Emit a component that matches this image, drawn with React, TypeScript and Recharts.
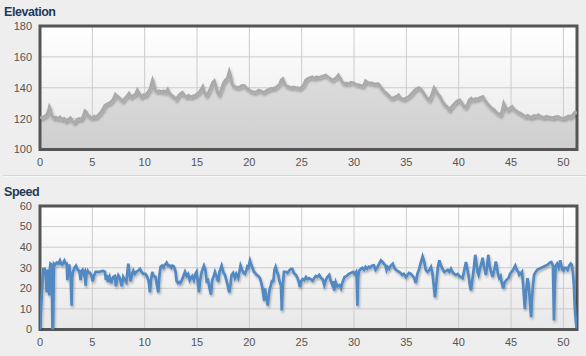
import React from 'react';
import { ComposedChart, Area, Line, XAxis, YAxis, CartesianGrid, ReferenceArea } from 'recharts';

const distanceTicks = [0, 5, 10, 15, 20, 25, 30, 35, 40, 45, 50];
const elevationTicks = [100, 120, 140, 160, 180];
const speedTicks = [0, 10, 20, 30, 40, 50, 60];
const distanceMax = 51.3;

// [km, metres]
const elevationPoints: [number, number][] = [
  [0, 121], [0.2, 120.5], [0.4, 121.5], [0.6, 122], [0.8, 125], [0.9, 127.5], [1.0, 126], [1.1, 122.5], [1.3, 120.5],
  [1.5, 121], [1.7, 120], [1.9, 121], [2.1, 119.5], [2.3, 120], [2.5, 118.5], [2.7, 119.5], [2.9, 120.5], [3.1, 118.5],
  [3.3, 117.5], [3.5, 119], [3.7, 120], [3.9, 119.5], [4.1, 121], [4.3, 125], [4.4, 124.5], [4.6, 122], [4.8, 121],
  [5.0, 120.5], [5.2, 121.5], [5.4, 121], [5.6, 122.5], [5.8, 124], [6.0, 126], [6.2, 128.5], [6.4, 129.5], [6.6, 130],
  [6.8, 131], [7.0, 132.5], [7.2, 135.7], [7.3, 135], [7.5, 134], [7.7, 132.5], [7.9, 131.5], [8.1, 133], [8.3, 134.5],
  [8.5, 136.3], [8.7, 134], [8.9, 135], [9.1, 135.5], [9.3, 138.5], [9.5, 136], [9.7, 134], [9.9, 135.5], [10.1, 135],
  [10.3, 137], [10.5, 139], [10.75, 145], [10.85, 143], [11.0, 138.5], [11.2, 137.5], [11.4, 138], [11.6, 137.5],
  [11.8, 138], [12.0, 137], [12.2, 139], [12.4, 136], [12.6, 135], [12.8, 134], [13.0, 132.5], [13.2, 134.5], [13.4, 136],
  [13.6, 137], [13.8, 135], [14.0, 134], [14.2, 135], [14.4, 134], [14.6, 134.5], [14.8, 135], [15.0, 136], [15.2, 137],
  [15.4, 139], [15.55, 140.7], [15.7, 137], [15.9, 135], [16.1, 137], [16.3, 140], [16.5, 143.5], [16.65, 144.5],
  [16.8, 141], [16.95, 137], [17.1, 135.5], [17.3, 138.5], [17.5, 142.5], [17.7, 144.8], [17.9, 146], [18.08, 150.5],
  [18.2, 148], [18.35, 142.5], [18.5, 141], [18.7, 140.5], [18.9, 140], [19.1, 140.5], [19.3, 141.5], [19.5, 141.5],
  [19.7, 140], [19.9, 139], [20.1, 138], [20.3, 137.5], [20.5, 137], [20.7, 137.5], [20.9, 138.5], [21.1, 138], [21.3, 137],
  [21.5, 137.5], [21.7, 138.5], [21.9, 139], [22.1, 139.5], [22.3, 139.5], [22.5, 140], [22.7, 141], [22.9, 142.5],
  [23.05, 145], [23.2, 145.8], [23.4, 142], [23.6, 141], [23.8, 140.5], [24.0, 140], [24.2, 140.5], [24.4, 140],
  [24.6, 140], [24.8, 139.5], [25.0, 140.3], [25.2, 142], [25.4, 145], [25.6, 146], [25.8, 146.5], [26.0, 147],
  [26.2, 146], [26.4, 147], [26.6, 146.5], [26.8, 147], [27.0, 147.5], [27.3, 148.2], [27.5, 147], [27.7, 146],
  [27.9, 145], [28.1, 145.5], [28.3, 146.5], [28.5, 148.2], [28.7, 146], [28.9, 143.5], [29.1, 142.7], [29.3, 143],
  [29.5, 142.5], [29.7, 143.5], [30.0, 143], [30.2, 142], [30.4, 142], [30.6, 141.5], [30.8, 141], [31.0, 142.5],
  [31.1, 144.5], [31.3, 143.5], [31.5, 143], [31.7, 143], [31.9, 142.5], [32.1, 142.5], [32.3, 142.7], [32.5, 141],
  [32.7, 139], [32.9, 137.4], [33.1, 136.5], [33.3, 135], [33.5, 133.5], [33.7, 133.2], [33.9, 134], [34.1, 134.5],
  [34.25, 135.3], [34.4, 133.5], [34.6, 133], [34.8, 132.5], [35.0, 133.5], [35.2, 134], [35.4, 135.5], [35.6, 137],
  [35.8, 138.5], [36.0, 139.5], [36.2, 140], [36.4, 139], [36.6, 137], [36.8, 135], [37.0, 133], [37.2, 132],
  [37.4, 135], [37.55, 138], [37.65, 140], [37.8, 138.5], [38.0, 136], [38.2, 134.5], [38.4, 131.5], [38.6, 129.5],
  [38.85, 128], [39.1, 125.6], [39.3, 127.5], [39.5, 129], [39.7, 130.5], [39.9, 131.5], [40.1, 132], [40.3, 130],
  [40.5, 128], [40.65, 127.3], [40.85, 129.5], [41.0, 132], [41.2, 133.2], [41.4, 132], [41.6, 133], [41.8, 132.6],
  [42.0, 133.5], [42.3, 134.3], [42.5, 132], [42.7, 130], [42.9, 128.5], [43.1, 127], [43.4, 125.6], [43.6, 124],
  [43.8, 123], [44.0, 122.4], [44.15, 125], [44.3, 129.8], [44.5, 127], [44.7, 125.6], [44.9, 127], [45.1, 127.8],
  [45.3, 126], [45.5, 125], [45.7, 124], [45.9, 123.5], [46.1, 122.5], [46.4, 121.3], [46.6, 122], [46.8, 121],
  [47.0, 120.8], [47.2, 122], [47.4, 121.5], [47.6, 122.4], [47.8, 121.5], [48.0, 121], [48.2, 120.8], [48.4, 121.5],
  [48.6, 121], [48.8, 120.8], [49.0, 120.5], [49.2, 121], [49.5, 121.3], [49.7, 120.5], [49.9, 120.2], [50.1, 120.2],
  [50.3, 121], [50.5, 121.7], [50.7, 121], [50.9, 122.5], [51.1, 124], [51.3, 123.5],
];

// [km, km/h]
const speedPoints: [number, number][] = [
  [0, 0], [0.15, 15], [0.32, 29.4], [0.45, 29.5], [0.54, 28], [0.64, 18], [0.72, 28], [0.8, 29], [0.89, 16.5], [0.95, 30],
  [1.0, 32], [1.11, 31.5], [1.19, 0], [1.24, 0], [1.34, 32], [1.45, 31.5], [1.6, 32.5], [1.75, 32], [1.9, 33.5],
  [2.0, 32], [2.13, 31.5], [2.22, 32.5], [2.33, 33.5], [2.45, 32], [2.55, 32], [2.62, 24], [2.68, 31], [2.8, 31],
  [2.93, 25], [3.02, 11.6], [3.08, 26], [3.15, 28], [3.3, 30], [3.44, 31], [3.6, 29], [3.73, 28.6], [3.8, 27], [3.88, 24],
  [3.98, 28.5], [4.07, 29], [4.18, 27], [4.28, 28], [4.36, 21.3], [4.45, 27.5], [4.55, 28.6], [4.68, 27.5], [4.78, 27.5],
  [4.92, 26], [5.03, 23.4], [5.15, 26], [5.31, 28], [5.5, 28], [5.7, 28], [5.89, 28.4], [6.05, 28.5], [6.2, 28], [6.3, 24],
  [6.4, 26.5], [6.5, 23], [6.65, 25.5], [6.8, 22.5], [6.9, 24.5], [7.0, 25.5], [7.15, 26], [7.25, 21], [7.35, 24],
  [7.48, 26.3], [7.62, 25], [7.8, 21], [7.95, 25.5], [8.1, 24], [8.25, 23], [8.35, 28], [8.44, 32], [8.55, 27],
  [8.66, 23.4], [8.8, 27], [8.91, 28.6], [9.05, 27], [9.2, 28], [9.39, 28.6], [9.55, 29.5], [9.7, 28], [9.85, 27],
  [10.06, 27], [10.2, 26], [10.35, 24], [10.42, 22], [10.5, 18], [10.6, 24], [10.73, 28], [10.85, 26], [11.05, 25.5],
  [11.15, 22], [11.3, 18], [11.4, 26], [11.52, 30.5], [11.65, 31], [11.8, 30], [11.9, 31.5], [12.0, 31.7], [12.1, 32.5],
  [12.25, 31], [12.4, 31], [12.55, 30], [12.65, 31], [12.8, 30.5], [12.95, 28], [13.05, 23.5], [13.2, 22.5], [13.3, 23],
  [13.4, 22.6], [13.55, 24], [13.7, 26], [13.85, 28], [14.0, 26], [14.15, 27], [14.3, 24], [14.4, 25], [14.55, 26],
  [14.7, 24], [14.85, 27], [14.96, 28], [15.08, 23], [15.18, 18], [15.3, 24], [15.45, 28], [15.66, 31], [15.8, 29],
  [15.92, 23.5], [16.05, 24], [16.2, 20], [16.33, 17], [16.45, 24], [16.6, 26], [16.71, 28], [16.85, 26], [17.03, 23],
  [17.15, 28], [17.35, 31], [17.5, 28], [17.67, 26.5], [17.8, 24], [17.95, 21], [18.08, 18], [18.2, 22], [18.3, 26.5],
  [18.45, 27.5], [18.62, 25], [18.75, 27], [18.94, 25], [19.05, 28], [19.16, 31], [19.3, 29], [19.45, 27.5],
  [19.58, 27], [19.7, 28.5], [19.8, 30.5], [19.9, 30], [20.06, 33.5], [20.15, 32], [20.3, 30], [20.44, 28],
  [20.55, 27.5], [20.7, 26.5], [20.85, 26], [21.01, 25], [21.12, 23], [21.25, 20], [21.33, 17], [21.42, 14],
  [21.49, 20], [21.58, 16.5], [21.65, 15], [21.76, 11.6], [21.84, 16], [21.95, 20], [22.03, 21], [22.15, 23.5],
  [22.29, 23.5], [22.4, 29], [22.51, 30.5], [22.65, 28], [22.76, 26.5], [22.9, 23], [23.02, 21.5], [23.1, 9.2],
  [23.18, 20], [23.3, 28],
  [23.5, 28], [23.65, 27.5], [23.8, 28.6], [23.97, 29.5], [24.1, 29.5], [24.25, 27.5], [24.45, 26.5], [24.6, 25],
  [24.75, 22.5], [24.83, 20.5], [24.95, 23.5], [25.1, 24.5], [25.25, 24], [25.4, 25.5], [25.55, 24.5], [25.7, 25],
  [25.85, 24.5], [26.04, 23.7], [26.2, 25], [26.35, 26], [26.5, 25.5], [26.68, 26.5], [26.85, 25], [27.0, 24.5],
  [27.16, 21.6], [27.3, 24], [27.45, 25.5], [27.63, 26.5], [27.75, 24], [27.9, 22], [28.0, 23.5], [28.1, 18.9],
  [28.25, 23], [28.4, 21], [28.6, 21.6], [28.75, 20], [28.9, 23], [29.1, 25.5], [29.3, 26], [29.5, 27], [29.7, 27.5],
  [29.9, 28], [30.05, 27], [30.2, 28], [30.25, 25], [30.32, 11.6], [30.4, 26], [30.5, 28.6], [30.65, 29.5], [30.8, 30],
  [30.95, 29], [31.1, 30.4], [31.25, 29.5], [31.4, 30.5], [31.55, 30], [31.7, 31], [31.9, 31.2], [32.05, 29],
  [32.2, 30], [32.4, 32], [32.57, 33.6], [32.7, 33], [32.85, 32], [33.0, 31], [33.1, 29], [33.2, 30.4], [33.35, 29.5],
  [33.5, 31], [33.7, 32], [33.85, 30], [34.0, 29], [34.15, 28.5], [34.3, 28], [34.45, 27.5], [34.6, 26.5], [34.75, 27],
  [34.9, 26], [34.96, 25.5], [35.1, 26.5], [35.25, 27.5], [35.43, 27], [35.6, 26], [35.75, 25], [35.9, 22.6],
  [36.05, 27], [36.2, 29], [36.35, 32], [36.55, 35.5], [36.7, 33], [36.85, 29], [37.03, 28], [37.2, 29], [37.35, 30.4],
  [37.5, 27], [37.6, 22], [37.73, 15.6], [37.85, 22], [38.0, 30], [38.15, 33.6], [38.3, 31], [38.45, 29.5],
  [38.62, 28], [38.8, 28.5], [38.95, 29], [39.1, 28], [39.26, 29.5], [39.4, 28], [39.55, 27], [39.73, 26.5],
  [39.9, 27], [40.05, 26], [40.2, 25.5], [40.37, 25], [40.5, 28], [40.69, 32.8], [40.8, 30], [40.95, 26], [41.05, 22],
  [41.17, 19], [41.3, 24], [41.45, 30], [41.58, 36.3], [41.7, 32], [41.8, 28], [41.9, 26.5], [42.05, 30], [42.2, 33],
  [42.28, 34.9], [42.4, 31], [42.6, 26.5], [42.7, 30], [42.82, 36.3], [42.95, 31], [43.1, 28], [43.23, 25.5],
  [43.4, 29], [43.55, 33], [43.65, 30], [43.75, 27], [43.87, 25], [44.0, 26], [44.1, 23], [44.25, 20], [44.4, 23],
  [44.55, 24], [44.76, 25], [44.9, 27], [45.05, 28], [45.2, 29], [45.4, 31], [45.55, 29], [45.7, 28], [45.78, 26.5],
  [45.9, 27], [46.05, 28], [46.15, 22], [46.32, 10], [46.42, 18], [46.57, 25], [46.67, 22], [46.77, 16], [46.85, 10],
  [46.92, 6], [47.0, 15], [47.1, 22], [47.2, 26.5], [47.35, 28], [47.5, 29], [47.7, 29.5], [47.9, 30], [48.1, 30.5],
  [48.3, 31], [48.5, 31.5], [48.7, 32.5], [48.85, 32.8], [49.0, 31], [49.1, 4.4], [49.17, 20], [49.27, 31], [49.4, 32],
  [49.55, 30], [49.7, 33.6], [49.8, 31], [49.9, 29], [50.0, 28.6], [50.1, 30], [50.25, 30], [50.4, 29], [50.55, 31],
  [50.7, 32], [50.8, 31.5], [50.9, 28], [51.0, 22], [51.1, 10], [51.2, 3.5], [51.3, 0.5],
];

const elevationData = elevationPoints.map(([km, v]) => ({ km, elevation: v }));
const speedData = speedPoints.map(([km, v]) => ({ km, speed: v }));

const tickStyle = { fill: '#555555', fontSize: 11, fontFamily: 'Arial, "Liberation Sans", sans-serif' };
const titleStyle: React.CSSProperties = {
  position: 'absolute', left: 4, fontFamily: 'Arial, "Liberation Sans", sans-serif', fontWeight: 'bold',
  fontSize: 12.5, letterSpacing: -0.45, lineHeight: '12px', color: '#1f3a5a',
};

const W = 586;
const H = 176;
const margin = { top: 26, right: 9, left: 0, bottom: 6.5 };

function Defs({ id }: { id: string }) {
  return (
    <defs>
      <linearGradient id={`bg-${id}`} x1="0" y1="0" x2="0" y2="1">
        <stop offset="0%" stopColor="#ffffff" />
        <stop offset="100%" stopColor="#e8e8e8" />
      </linearGradient>
      <linearGradient id={`fill-${id}`} x1="0" y1="0" x2="0" y2="1">
        <stop offset="0%" stopColor="#dddddd" />
        <stop offset="100%" stopColor="#cfcfcf" />
      </linearGradient>
      <filter id={`shadow-${id}`} x="-5%" y="-20%" width="110%" height="140%">
        <feDropShadow dx="1" dy="2" stdDeviation="1.2" floodColor="#000000" floodOpacity="0.28" />
      </filter>
    </defs>
  );
}

export default function App() {
  return (
    <div style={{ position: 'fixed', left: 0, top: 0, width: W, height: 356, background: '#eeeeee', overflow: 'hidden' }}>
      <div style={{ ...titleStyle, top: 6 }}>Elevation</div>
      <div style={{ position: 'absolute', left: 0 }}>
        <ComposedChart width={W} height={H} data={elevationData} margin={margin}>
          <Defs id="e" />
          <CartesianGrid stroke="#cccccc" fill="url(#bg-e)" fillOpacity={1} />
          <XAxis type="number" dataKey="km" domain={[0, distanceMax]} ticks={distanceTicks} allowDataOverflow
            axisLine={false} tickLine={false} tick={tickStyle} tickMargin={3} height={20} interval={0} />
          <YAxis type="number" domain={[100, 180]} ticks={elevationTicks} allowDataOverflow
            axisLine={false} tickLine={false} tick={tickStyle} width={40} interval={0} />
          <Area type="linear" dataKey="elevation" stroke="none" fill="url(#fill-e)" fillOpacity={1}
            baseValue="dataMin" isAnimationActive={false} />
          <Line type="linear" dataKey="elevation" stroke="#aaaaaa" strokeWidth={3} dot={false}
            filter="url(#shadow-e)" isAnimationActive={false} />
          <ReferenceArea x1={0} x2={distanceMax} y1={100} y2={180} fill="none" stroke="#555555" strokeWidth={3} />
        </ComposedChart>
      </div>
      <div style={{ position: 'absolute', left: 3, top: 175, width: 583, height: 1, background: '#d6d6d6' }} />
      <div style={{ position: 'absolute', left: 3, top: 176, width: 583, height: 1, background: '#f7f7f7' }} />
      <div style={{ ...titleStyle, top: 186 }}>Speed</div>
      <div style={{ position: 'absolute', left: 0, top: 180 }}>
        <ComposedChart width={W} height={H} data={speedData} margin={margin}>
          <Defs id="s" />
          <CartesianGrid stroke="#cccccc" fill="url(#bg-s)" fillOpacity={1} />
          <XAxis type="number" dataKey="km" domain={[0, distanceMax]} ticks={distanceTicks} allowDataOverflow
            axisLine={false} tickLine={false} tick={tickStyle} tickMargin={3} height={20} interval={0} />
          <YAxis type="number" domain={[0, 60]} ticks={speedTicks} allowDataOverflow
            axisLine={false} tickLine={false} tick={tickStyle} width={40} interval={0} />
          <Line type="linear" dataKey="speed" stroke="#5289c3" strokeWidth={2.7} dot={false}
            filter="url(#shadow-s)" isAnimationActive={false} />
          <ReferenceArea x1={0} x2={distanceMax} y1={0} y2={60} fill="none" stroke="#555555" strokeWidth={3} />
        </ComposedChart>
      </div>
    </div>
  );
}
